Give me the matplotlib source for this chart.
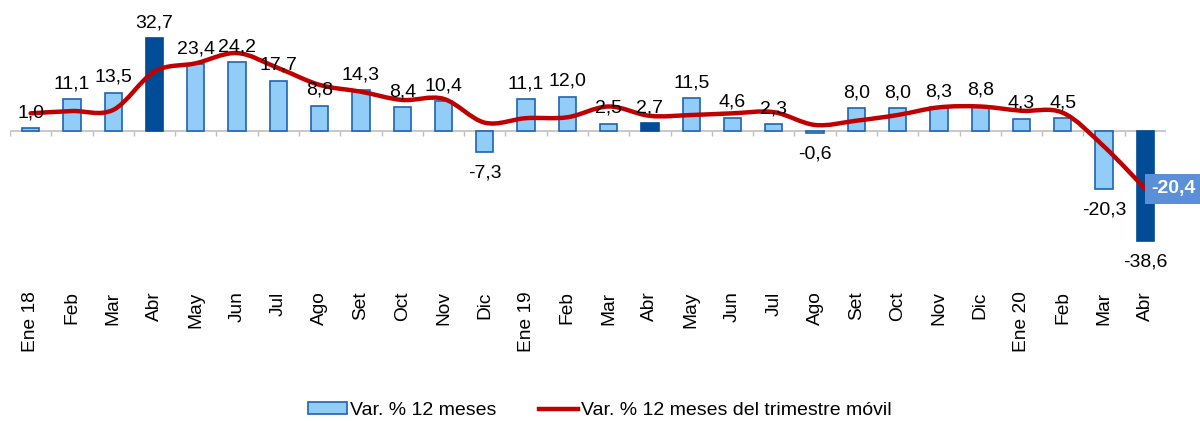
import matplotlib
matplotlib.use("Agg")
import matplotlib.pyplot as plt
from matplotlib.path import Path
from matplotlib.patches import PathPatch, Patch
from matplotlib.lines import Line2D

plt.rcParams['font.family'] = ['Liberation Sans', 'DejaVu Sans']

# Data
months = ['Ene 18', 'Feb', 'Mar', 'Abr', 'May', 'Jun', 'Jul', 'Ago', 'Set', 'Oct', 'Nov', 'Dic',
          'Ene 19', 'Feb', 'Mar', 'Abr', 'May', 'Jun', 'Jul', 'Ago', 'Set', 'Oct', 'Nov', 'Dic',
          'Ene 20', 'Feb', 'Mar', 'Abr']
var_12m = [1.0, 11.1, 13.5, 32.7, 23.4, 24.2, 17.7, 8.8, 14.3, 8.4, 10.4, -7.3,
           11.1, 12.0, 2.5, 2.7, 11.5, 4.6, 2.3, -0.6, 8.0, 8.0, 8.3, 8.8,
           4.3, 4.5, -20.3, -38.6]
var_trim = [6.2, 7.0, 7.4, 20.9, 23.8, 27.4, 22.1, 16.2, 13.8, 10.9, 11.3, 2.9,
            4.5, 4.8, 8.6, 5.3, 5.6, 6.2, 6.6, 2.1, 3.6, 5.6, 8.3, 8.6,
            7.1, 6.4, -5.5, -20.4]
highlight = [3, 15, 27]  # months shown in dark blue

light = '#92CDF7'
edge = '#1F63B3'
dark = '#004C97'
red = '#C00000'

fig = plt.figure(figsize=(12, 4.21), dpi=100)
ax = fig.add_axes([10 / 1200, 0.311, 1156 / 1200, 0.648])

x = list(range(len(months)))
colors = [dark if i in highlight else light for i in x]
edges = [dark if i in highlight else edge for i in x]
ax.bar(x, var_12m, width=0.42, color=colors, edgecolor=edges, linewidth=1.2, zorder=2)

# zero line and category boundary ticks
ax.axhline(0, color='#BFBFBF', linewidth=1.2, zorder=1)
ax.vlines([i - 0.5 for i in range(len(months) + 1)], -1.9, 0, color='#BFBFBF', linewidth=1.0, zorder=1)

# smoothed moving-quarter line (cubic bezier through the points)
verts = [(x[0], var_trim[0])]
codes = [Path.MOVETO]
n = len(x)
for i in range(n - 1):
    p0 = (x[max(i - 1, 0)], var_trim[max(i - 1, 0)])
    p1 = (x[i], var_trim[i])
    p2 = (x[i + 1], var_trim[i + 1])
    p3 = (x[min(i + 2, n - 1)], var_trim[min(i + 2, n - 1)])
    c1 = (p1[0] + (p2[0] - p0[0]) / 6, p1[1] + (p2[1] - p0[1]) / 6)
    c2 = (p2[0] - (p3[0] - p1[0]) / 6, p2[1] - (p3[1] - p1[1]) / 6)
    verts += [c1, c2, p2]
    codes += [Path.CURVE4] * 3
ax.add_patch(PathPatch(Path(verts, codes), facecolor='none', edgecolor=red,
                       linewidth=3.2, capstyle='round', joinstyle='round', zorder=3))

# data labels
for i, v in enumerate(var_12m):
    lbl = f"{v:.1f}".replace('.', ',')
    if v >= 0:
        ax.annotate(lbl, (i, v), xytext=(0, 5), textcoords='offset points',
                    ha='center', va='bottom', fontsize=14, zorder=4)
    else:
        ax.annotate(lbl, (i, v), xytext=(0, -9), textcoords='offset points',
                    ha='center', va='top', fontsize=14, zorder=4)

last = f"{var_trim[-1]:.1f}".replace('.', ',')
ax.annotate(last, (x[-1], var_trim[-1]), xytext=(4, 0), textcoords='offset points',
            ha='left', va='center', fontsize=14, fontweight='bold', color='white',
            bbox=dict(boxstyle='square,pad=0.32', facecolor='#5B8FD8', edgecolor='none'),
            zorder=5, annotation_clip=False)

ax.set_xlim(-0.5, n - 0.5)
ax.set_ylim(-56, 40)
ax.set_xticks(x)
ax.set_xticklabels(months, rotation=90, fontsize=13.8)
ax.tick_params(axis='x', length=0, pad=1)
ax.set_yticks([])
for s in ax.spines.values():
    s.set_visible(False)

handles = [Patch(facecolor=light, edgecolor=edge, linewidth=1.2),
           Line2D([0], [0], color=red, linewidth=3.2)]
fig.legend(handles, ['Var. % 12 meses', 'Var. % 12 meses del trimestre móvil'],
           loc='center', bbox_to_anchor=(0.5, 0.025), ncol=2, frameon=False,
           fontsize=14, handlelength=2.0, handleheight=0.55, columnspacing=2.2,
           handletextpad=0.15)

fig.savefig('out.png', dpi=100)
